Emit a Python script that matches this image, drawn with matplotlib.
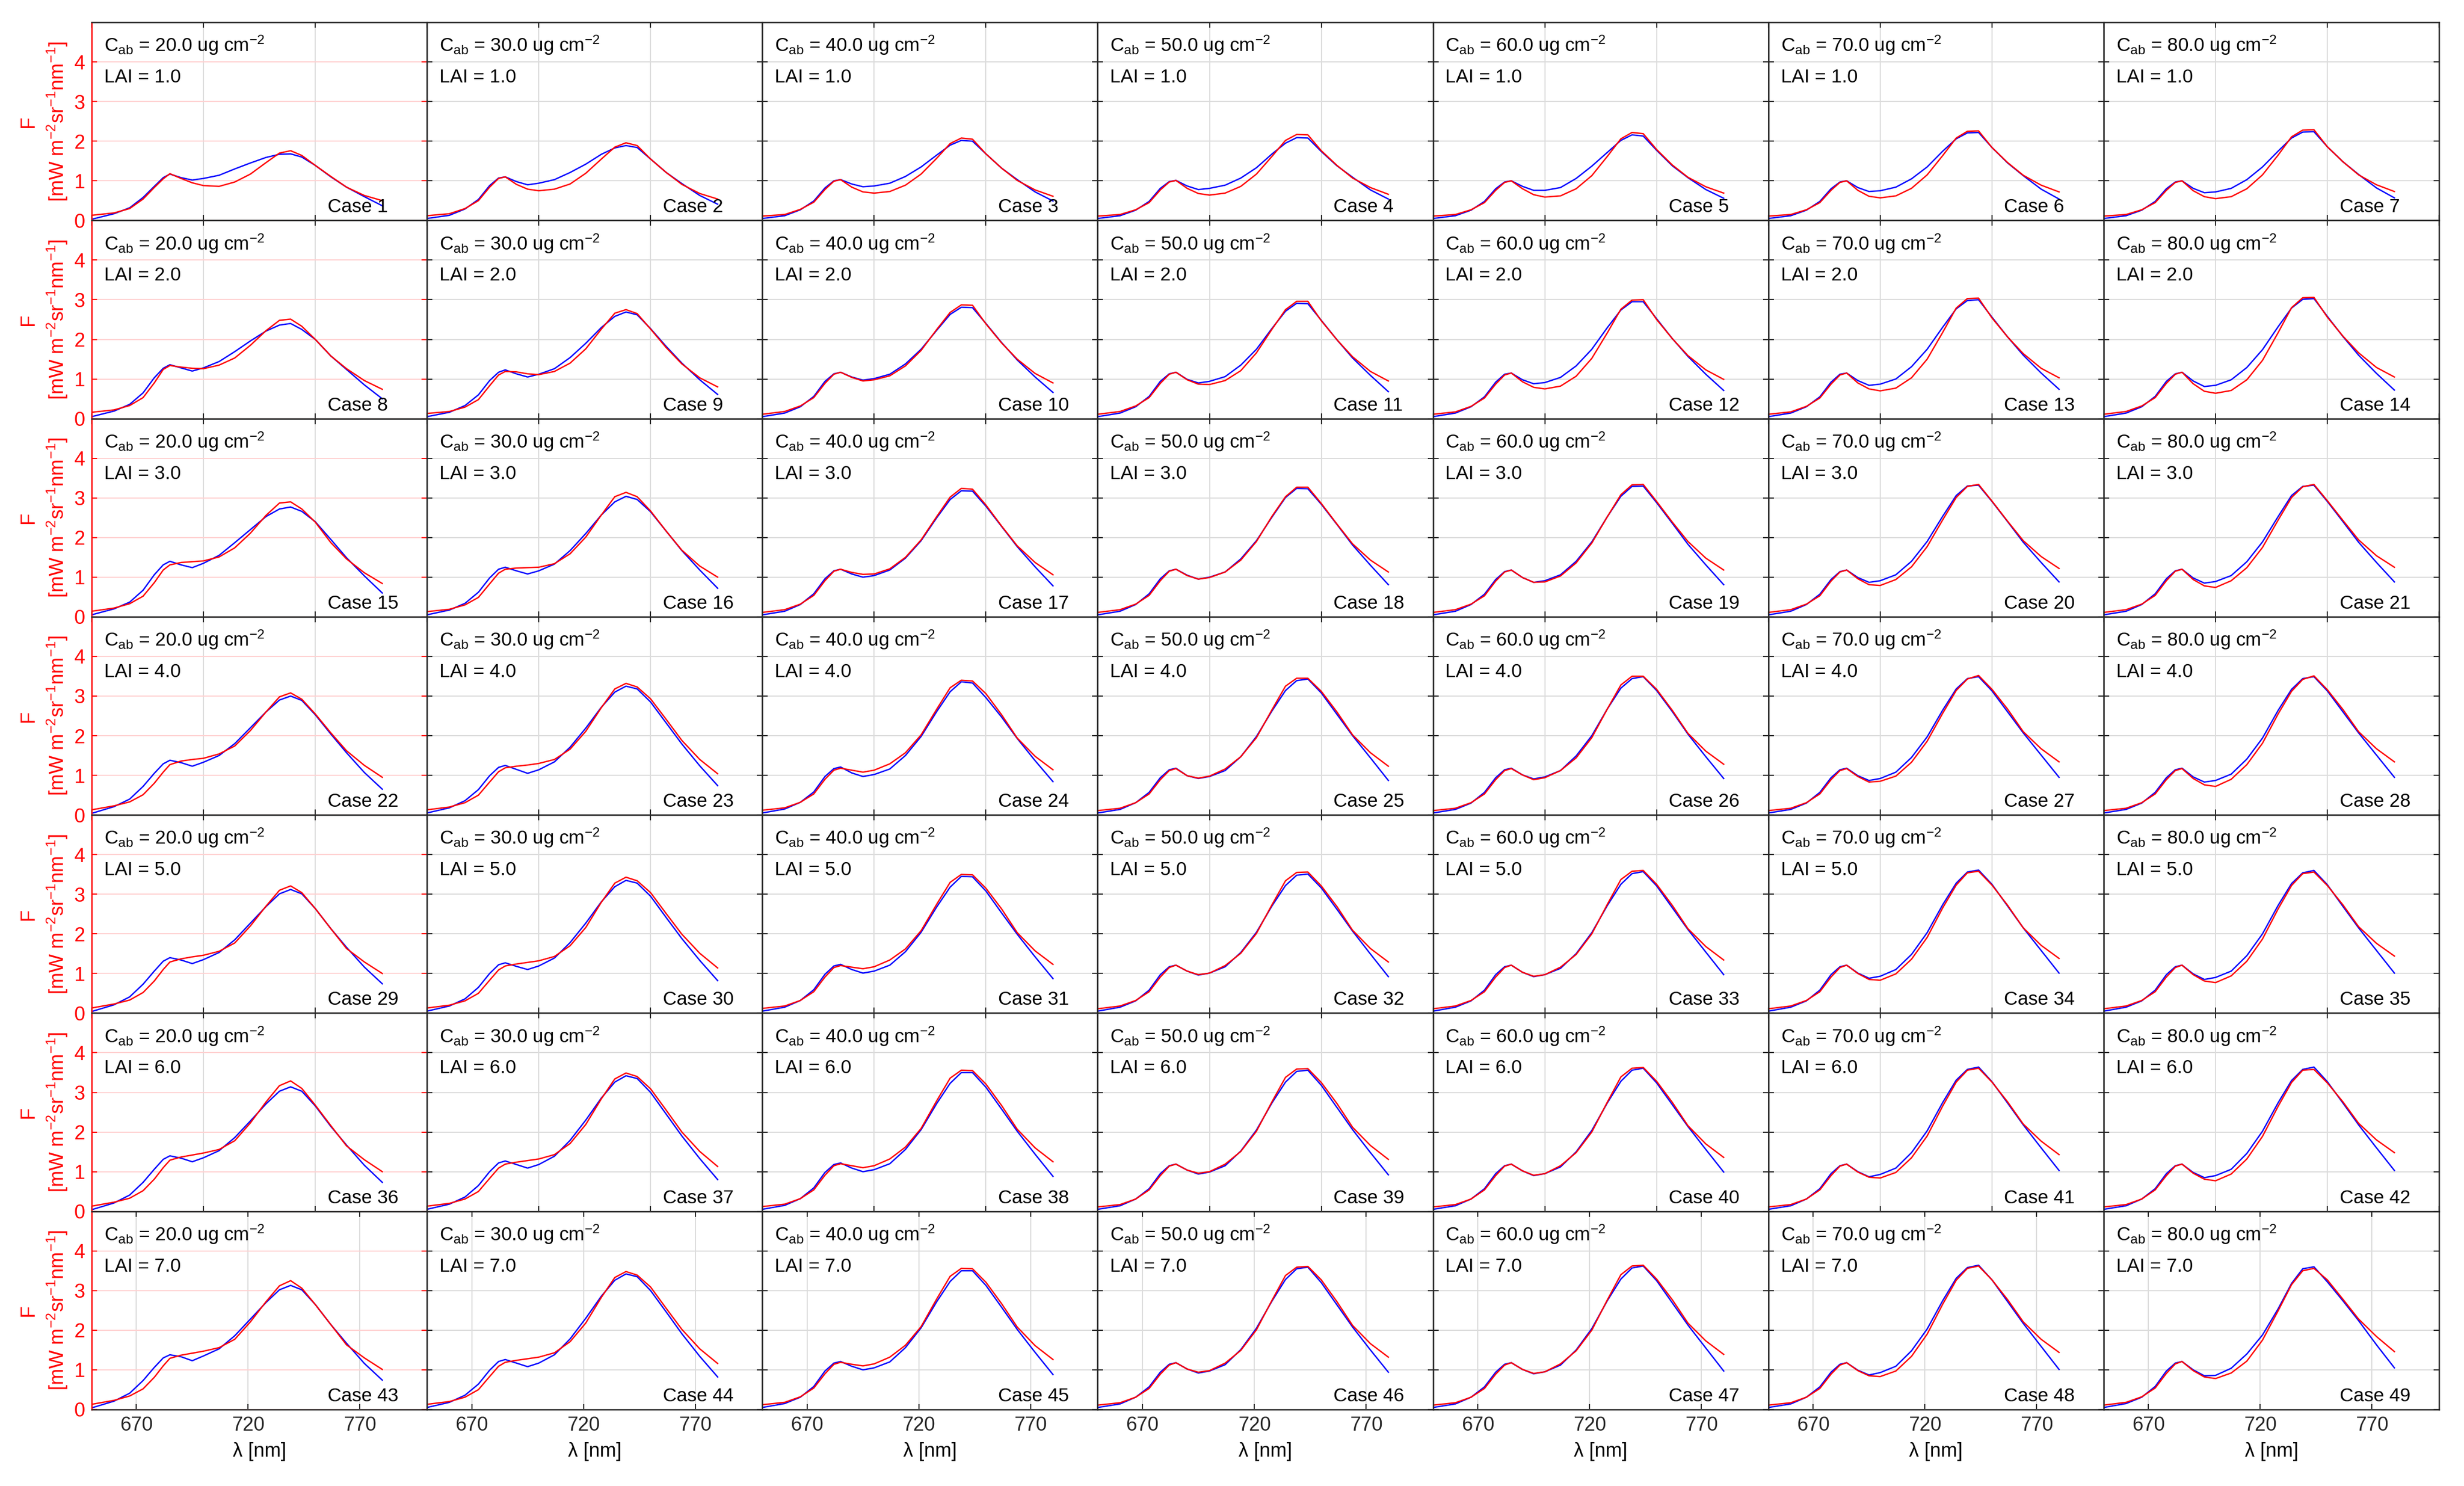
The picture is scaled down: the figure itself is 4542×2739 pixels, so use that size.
import matplotlib.pyplot as plt

plt.rcParams['font.family'] = ['Liberation Sans', 'DejaVu Sans']
plt.rcParams['mathtext.fontset'] = 'custom'
plt.rcParams['mathtext.rm'] = 'Liberation Sans'
plt.rcParams['mathtext.it'] = 'Liberation Sans:italic'

# wavelength samples (nm)
wl = [650, 660, 667, 673, 678, 682, 685, 690, 695, 700, 707, 714,
      721, 728, 734, 739, 744, 750, 757, 764, 772, 780]

cab = [20.0, 30.0, 40.0, 50.0, 60.0, 70.0, 80.0]
lai = [1.0, 2.0, 3.0, 4.0, 5.0, 6.0, 7.0]

# blue curves, one list per LAI row, one sub-list per Cab column
blue_lai1 = [
    [0.03, 0.17, 0.32, 0.58, 0.86, 1.08, 1.17, 1.08, 1.02, 1.06, 1.14, 1.30, 1.45, 1.59, 1.67, 1.68, 1.60, 1.39, 1.10, 0.84, 0.60, 0.37],
    [0.05, 0.13, 0.29, 0.53, 0.88, 1.07, 1.10, 0.98, 0.90, 0.94, 1.03, 1.21, 1.42, 1.67, 1.83, 1.89, 1.84, 1.55, 1.21, 0.93, 0.63, 0.41],
    [0.05, 0.12, 0.27, 0.49, 0.82, 1.00, 1.03, 0.92, 0.85, 0.87, 0.94, 1.11, 1.35, 1.65, 1.90, 2.02, 2.00, 1.68, 1.32, 1.03, 0.72, 0.49],
    [0.05, 0.12, 0.26, 0.48, 0.81, 0.98, 1.01, 0.87, 0.78, 0.81, 0.89, 1.07, 1.33, 1.68, 1.95, 2.09, 2.08, 1.74, 1.38, 1.09, 0.77, 0.54],
    [0.05, 0.12, 0.26, 0.48, 0.80, 0.97, 1.00, 0.86, 0.76, 0.76, 0.83, 1.06, 1.37, 1.72, 2.02, 2.16, 2.13, 1.77, 1.38, 1.08, 0.78, 0.56],
    [0.05, 0.12, 0.26, 0.48, 0.80, 0.97, 1.00, 0.83, 0.73, 0.75, 0.84, 1.05, 1.35, 1.75, 2.06, 2.21, 2.22, 1.84, 1.45, 1.13, 0.79, 0.54],
    [0.05, 0.12, 0.26, 0.48, 0.80, 0.97, 1.00, 0.81, 0.70, 0.72, 0.81, 1.03, 1.35, 1.75, 2.08, 2.23, 2.24, 1.86, 1.48, 1.16, 0.82, 0.57],
]
blue_lai2 = [
    [0.05, 0.19, 0.36, 0.65, 1.03, 1.27, 1.36, 1.28, 1.20, 1.28, 1.44, 1.69, 1.96, 2.21, 2.36, 2.40, 2.25, 2.00, 1.58, 1.24, 0.85, 0.50],
    [0.05, 0.16, 0.33, 0.60, 0.96, 1.17, 1.23, 1.13, 1.05, 1.12, 1.26, 1.54, 1.90, 2.30, 2.58, 2.69, 2.62, 2.27, 1.82, 1.40, 0.98, 0.61],
    [0.05, 0.14, 0.30, 0.56, 0.94, 1.13, 1.17, 1.05, 0.97, 1.01, 1.12, 1.38, 1.75, 2.23, 2.63, 2.81, 2.80, 2.40, 1.92, 1.48, 1.05, 0.66],
    [0.05, 0.14, 0.30, 0.56, 0.94, 1.13, 1.17, 0.99, 0.90, 0.94, 1.06, 1.35, 1.75, 2.28, 2.71, 2.91, 2.90, 2.48, 1.99, 1.53, 1.09, 0.68],
    [0.05, 0.14, 0.30, 0.55, 0.92, 1.12, 1.15, 0.98, 0.88, 0.91, 1.04, 1.33, 1.75, 2.30, 2.74, 2.95, 2.95, 2.52, 2.02, 1.57, 1.12, 0.71],
    [0.05, 0.14, 0.30, 0.55, 0.92, 1.12, 1.15, 0.96, 0.84, 0.87, 1.00, 1.31, 1.75, 2.31, 2.77, 2.98, 3.00, 2.56, 2.06, 1.60, 1.15, 0.74],
    [0.05, 0.14, 0.30, 0.56, 0.94, 1.13, 1.17, 0.95, 0.81, 0.84, 0.98, 1.29, 1.74, 2.32, 2.79, 3.01, 3.03, 2.58, 2.07, 1.60, 1.14, 0.72],
]
blue_lai3 = [
    [0.05, 0.20, 0.37, 0.67, 1.06, 1.31, 1.40, 1.31, 1.24, 1.35, 1.55, 1.87, 2.20, 2.53, 2.72, 2.77, 2.66, 2.40, 1.95, 1.49, 1.03, 0.60],
    [0.05, 0.17, 0.34, 0.62, 0.98, 1.20, 1.25, 1.16, 1.08, 1.16, 1.33, 1.67, 2.10, 2.57, 2.90, 3.04, 2.96, 2.65, 2.16, 1.67, 1.18, 0.72],
    [0.05, 0.14, 0.31, 0.58, 0.96, 1.16, 1.20, 1.08, 1.00, 1.04, 1.18, 1.48, 1.92, 2.50, 2.96, 3.18, 3.17, 2.79, 2.28, 1.77, 1.26, 0.78],
    [0.05, 0.14, 0.31, 0.58, 0.96, 1.16, 1.20, 1.05, 0.95, 1.00, 1.13, 1.46, 1.92, 2.52, 3.01, 3.24, 3.23, 2.84, 2.33, 1.81, 1.30, 0.81],
    [0.05, 0.14, 0.31, 0.57, 0.94, 1.14, 1.18, 0.99, 0.87, 0.91, 1.06, 1.40, 1.89, 2.53, 3.04, 3.29, 3.30, 2.88, 2.36, 1.83, 1.31, 0.81],
    [0.05, 0.14, 0.31, 0.57, 0.94, 1.14, 1.18, 0.99, 0.87, 0.91, 1.06, 1.40, 1.90, 2.54, 3.06, 3.30, 3.32, 2.91, 2.40, 1.88, 1.37, 0.88],
    [0.05, 0.14, 0.31, 0.58, 0.96, 1.16, 1.20, 0.98, 0.85, 0.89, 1.04, 1.39, 1.89, 2.53, 3.06, 3.29, 3.32, 2.91, 2.40, 1.88, 1.37, 0.88],
]
blue_lai4 = [
    [0.04, 0.21, 0.40, 0.72, 1.05, 1.29, 1.38, 1.32, 1.23, 1.33, 1.50, 1.80, 2.20, 2.60, 2.90, 3.00, 2.89, 2.53, 2.04, 1.57, 1.07, 0.65],
    [0.05, 0.18, 0.36, 0.64, 0.99, 1.20, 1.25, 1.15, 1.05, 1.14, 1.34, 1.71, 2.19, 2.72, 3.10, 3.25, 3.18, 2.85, 2.32, 1.79, 1.24, 0.74],
    [0.05, 0.15, 0.32, 0.58, 0.97, 1.17, 1.21, 1.06, 0.97, 1.02, 1.16, 1.50, 1.98, 2.61, 3.11, 3.36, 3.33, 2.96, 2.47, 1.93, 1.37, 0.84],
    [0.05, 0.14, 0.31, 0.57, 0.94, 1.14, 1.18, 0.99, 0.92, 0.97, 1.12, 1.47, 1.98, 2.63, 3.14, 3.39, 3.43, 3.08, 2.54, 2.00, 1.44, 0.87],
    [0.05, 0.14, 0.30, 0.57, 0.94, 1.14, 1.18, 1.01, 0.91, 0.96, 1.12, 1.49, 2.00, 2.68, 3.20, 3.44, 3.49, 3.14, 2.61, 2.04, 1.47, 0.92],
    [0.05, 0.14, 0.30, 0.57, 0.94, 1.14, 1.18, 0.99, 0.87, 0.92, 1.08, 1.45, 1.97, 2.65, 3.18, 3.44, 3.49, 3.13, 2.60, 2.07, 1.51, 0.95],
    [0.05, 0.14, 0.30, 0.57, 0.94, 1.14, 1.18, 0.96, 0.83, 0.87, 1.03, 1.41, 1.94, 2.64, 3.17, 3.44, 3.49, 3.13, 2.60, 2.07, 1.51, 0.95],
]
blue_lai5 = [
    [0.04, 0.21, 0.41, 0.73, 1.06, 1.31, 1.40, 1.34, 1.25, 1.35, 1.53, 1.85, 2.27, 2.69, 3.01, 3.12, 3.01, 2.64, 2.13, 1.66, 1.16, 0.74],
    [0.05, 0.18, 0.36, 0.65, 1.00, 1.22, 1.27, 1.18, 1.10, 1.19, 1.39, 1.78, 2.27, 2.81, 3.19, 3.35, 3.28, 2.95, 2.41, 1.88, 1.33, 0.82],
    [0.05, 0.15, 0.32, 0.59, 0.98, 1.19, 1.23, 1.10, 1.01, 1.06, 1.21, 1.55, 2.04, 2.68, 3.18, 3.45, 3.44, 3.08, 2.53, 1.99, 1.42, 0.87],
    [0.05, 0.15, 0.31, 0.58, 0.97, 1.17, 1.21, 1.06, 0.96, 1.01, 1.17, 1.53, 2.04, 2.71, 3.22, 3.48, 3.51, 3.16, 2.62, 2.07, 1.49, 0.92],
    [0.05, 0.15, 0.31, 0.58, 0.97, 1.17, 1.21, 1.03, 0.92, 0.97, 1.13, 1.50, 2.03, 2.72, 3.25, 3.52, 3.57, 3.21, 2.66, 2.11, 1.54, 0.97],
    [0.05, 0.15, 0.31, 0.58, 0.97, 1.17, 1.21, 1.01, 0.88, 0.93, 1.10, 1.48, 2.03, 2.74, 3.28, 3.56, 3.61, 3.25, 2.70, 2.15, 1.58, 1.01],
    [0.05, 0.15, 0.31, 0.58, 0.97, 1.17, 1.21, 0.99, 0.85, 0.90, 1.06, 1.45, 2.00, 2.72, 3.27, 3.54, 3.60, 3.24, 2.69, 2.15, 1.58, 1.01],
]
blue_lai6 = [
    [0.04, 0.21, 0.41, 0.73, 1.06, 1.31, 1.40, 1.34, 1.25, 1.35, 1.53, 1.86, 2.28, 2.71, 3.03, 3.14, 3.03, 2.66, 2.14, 1.67, 1.16, 0.73],
    [0.05, 0.18, 0.36, 0.65, 1.00, 1.22, 1.27, 1.18, 1.09, 1.18, 1.39, 1.79, 2.30, 2.86, 3.26, 3.42, 3.35, 3.00, 2.45, 1.90, 1.33, 0.80],
    [0.05, 0.15, 0.32, 0.59, 0.98, 1.18, 1.22, 1.09, 1.00, 1.05, 1.20, 1.56, 2.06, 2.72, 3.23, 3.50, 3.50, 3.13, 2.58, 2.02, 1.44, 0.88],
    [0.05, 0.14, 0.31, 0.57, 0.95, 1.15, 1.19, 1.04, 0.94, 0.99, 1.15, 1.52, 2.05, 2.74, 3.26, 3.53, 3.56, 3.18, 2.62, 2.06, 1.48, 0.92],
    [0.05, 0.14, 0.31, 0.57, 0.95, 1.15, 1.19, 1.02, 0.90, 0.95, 1.12, 1.50, 2.04, 2.74, 3.28, 3.56, 3.61, 3.24, 2.69, 2.14, 1.56, 0.99],
    [0.05, 0.14, 0.31, 0.57, 0.95, 1.15, 1.19, 1.00, 0.87, 0.93, 1.09, 1.48, 2.03, 2.75, 3.31, 3.58, 3.64, 3.27, 2.73, 2.18, 1.60, 1.03],
    [0.05, 0.14, 0.31, 0.57, 0.95, 1.15, 1.19, 0.98, 0.85, 0.90, 1.06, 1.46, 2.02, 2.74, 3.30, 3.58, 3.64, 3.27, 2.73, 2.18, 1.60, 1.03],
]
blue_lai7 = [
    [0.04, 0.21, 0.41, 0.73, 1.06, 1.30, 1.38, 1.33, 1.23, 1.35, 1.53, 1.86, 2.28, 2.70, 3.02, 3.13, 3.02, 2.65, 2.14, 1.67, 1.16, 0.74],
    [0.05, 0.18, 0.36, 0.64, 0.99, 1.21, 1.26, 1.17, 1.08, 1.17, 1.38, 1.78, 2.30, 2.86, 3.26, 3.42, 3.35, 3.00, 2.46, 1.91, 1.34, 0.82],
    [0.05, 0.15, 0.31, 0.58, 0.97, 1.17, 1.21, 1.09, 1.00, 1.05, 1.20, 1.56, 2.06, 2.72, 3.23, 3.50, 3.50, 3.13, 2.58, 2.02, 1.44, 0.88],
    [0.05, 0.14, 0.31, 0.57, 0.94, 1.14, 1.18, 1.02, 0.92, 0.97, 1.13, 1.51, 2.05, 2.74, 3.28, 3.55, 3.59, 3.20, 2.64, 2.08, 1.50, 0.94],
    [0.05, 0.14, 0.31, 0.57, 0.94, 1.14, 1.18, 1.01, 0.90, 0.95, 1.12, 1.50, 2.04, 2.75, 3.29, 3.57, 3.62, 3.25, 2.69, 2.13, 1.55, 0.97],
    [0.05, 0.14, 0.31, 0.57, 0.94, 1.14, 1.18, 0.99, 0.87, 0.93, 1.09, 1.48, 2.03, 2.75, 3.31, 3.58, 3.64, 3.27, 2.72, 2.17, 1.59, 1.01],
    [0.05, 0.15, 0.31, 0.58, 0.97, 1.17, 1.21, 1.00, 0.85, 0.86, 1.04, 1.40, 1.88, 2.54, 3.18, 3.55, 3.60, 3.22, 2.74, 2.24, 1.63, 1.05],
]

# red curves, same layout
red_lai1 = [
    [0.13, 0.19, 0.30, 0.54, 0.83, 1.05, 1.18, 1.06, 0.95, 0.88, 0.86, 0.97, 1.17, 1.46, 1.70, 1.76, 1.64, 1.39, 1.11, 0.84, 0.63, 0.50],
    [0.12, 0.17, 0.30, 0.50, 0.84, 1.06, 1.10, 0.91, 0.79, 0.75, 0.79, 0.92, 1.19, 1.55, 1.85, 1.96, 1.89, 1.55, 1.21, 0.91, 0.68, 0.54],
    [0.11, 0.15, 0.28, 0.46, 0.78, 0.99, 1.03, 0.84, 0.72, 0.69, 0.73, 0.89, 1.17, 1.57, 1.94, 2.08, 2.05, 1.68, 1.32, 1.01, 0.77, 0.61],
    [0.11, 0.15, 0.27, 0.45, 0.77, 0.97, 1.01, 0.81, 0.68, 0.64, 0.69, 0.86, 1.17, 1.62, 2.02, 2.17, 2.16, 1.76, 1.39, 1.07, 0.83, 0.66],
    [0.11, 0.15, 0.27, 0.45, 0.76, 0.96, 1.00, 0.80, 0.65, 0.59, 0.62, 0.80, 1.13, 1.62, 2.06, 2.22, 2.19, 1.79, 1.40, 1.09, 0.85, 0.69],
    [0.11, 0.15, 0.27, 0.45, 0.76, 0.96, 1.00, 0.76, 0.61, 0.57, 0.62, 0.81, 1.15, 1.64, 2.08, 2.25, 2.26, 1.84, 1.46, 1.14, 0.89, 0.72],
    [0.11, 0.15, 0.27, 0.45, 0.76, 0.96, 1.00, 0.75, 0.60, 0.55, 0.60, 0.80, 1.15, 1.65, 2.11, 2.28, 2.29, 1.86, 1.48, 1.15, 0.90, 0.73],
]
red_lai2 = [
    [0.16, 0.22, 0.33, 0.53, 0.90, 1.24, 1.34, 1.30, 1.27, 1.26, 1.35, 1.53, 1.85, 2.22, 2.48, 2.51, 2.33, 2.00, 1.58, 1.26, 0.96, 0.74],
    [0.13, 0.18, 0.29, 0.48, 0.83, 1.10, 1.19, 1.18, 1.13, 1.11, 1.19, 1.40, 1.76, 2.26, 2.66, 2.75, 2.65, 2.26, 1.79, 1.38, 1.03, 0.80],
    [0.11, 0.18, 0.32, 0.53, 0.89, 1.12, 1.17, 1.04, 0.95, 0.98, 1.08, 1.33, 1.72, 2.25, 2.68, 2.87, 2.86, 2.39, 1.91, 1.50, 1.14, 0.90],
    [0.11, 0.18, 0.32, 0.53, 0.89, 1.12, 1.17, 0.98, 0.87, 0.86, 0.96, 1.21, 1.66, 2.26, 2.75, 2.96, 2.96, 2.47, 1.99, 1.56, 1.19, 0.95],
    [0.11, 0.17, 0.31, 0.52, 0.87, 1.10, 1.15, 0.93, 0.79, 0.75, 0.82, 1.07, 1.52, 2.17, 2.76, 2.99, 3.00, 2.50, 2.02, 1.59, 1.23, 0.99],
    [0.11, 0.17, 0.31, 0.52, 0.87, 1.10, 1.15, 0.90, 0.75, 0.70, 0.77, 1.03, 1.50, 2.18, 2.79, 3.03, 3.04, 2.54, 2.06, 1.64, 1.27, 1.03],
    [0.11, 0.18, 0.32, 0.53, 0.89, 1.12, 1.17, 0.88, 0.69, 0.64, 0.71, 0.98, 1.47, 2.17, 2.80, 3.05, 3.06, 2.56, 2.08, 1.66, 1.29, 1.05],
]
red_lai3 = [
    [0.14, 0.22, 0.33, 0.52, 0.86, 1.18, 1.31, 1.37, 1.39, 1.41, 1.51, 1.74, 2.11, 2.56, 2.87, 2.90, 2.72, 2.39, 1.87, 1.46, 1.11, 0.84],
    [0.13, 0.19, 0.30, 0.49, 0.83, 1.10, 1.20, 1.23, 1.24, 1.25, 1.34, 1.59, 2.01, 2.57, 3.03, 3.14, 3.03, 2.67, 2.16, 1.68, 1.28, 1.00],
    [0.11, 0.18, 0.32, 0.54, 0.91, 1.15, 1.20, 1.12, 1.07, 1.08, 1.21, 1.50, 1.94, 2.53, 3.02, 3.24, 3.22, 2.82, 2.29, 1.79, 1.37, 1.06],
    [0.11, 0.18, 0.32, 0.54, 0.91, 1.15, 1.20, 1.04, 0.95, 0.99, 1.13, 1.43, 1.90, 2.54, 3.03, 3.27, 3.27, 2.86, 2.34, 1.84, 1.43, 1.13],
    [0.11, 0.18, 0.32, 0.53, 0.90, 1.13, 1.18, 0.99, 0.87, 0.88, 1.03, 1.36, 1.86, 2.53, 3.08, 3.33, 3.34, 2.91, 2.39, 1.90, 1.48, 1.18],
    [0.11, 0.18, 0.32, 0.53, 0.90, 1.13, 1.18, 0.96, 0.81, 0.79, 0.94, 1.26, 1.77, 2.45, 3.01, 3.29, 3.34, 2.92, 2.41, 1.92, 1.52, 1.22],
    [0.11, 0.18, 0.32, 0.54, 0.91, 1.15, 1.20, 0.94, 0.78, 0.74, 0.91, 1.24, 1.75, 2.44, 3.01, 3.28, 3.34, 2.93, 2.43, 1.94, 1.54, 1.25],
]
red_lai4 = [
    [0.13, 0.23, 0.33, 0.51, 0.80, 1.08, 1.27, 1.36, 1.40, 1.43, 1.54, 1.74, 2.13, 2.60, 2.98, 3.08, 2.92, 2.55, 2.07, 1.62, 1.25, 0.95],
    [0.13, 0.20, 0.31, 0.50, 0.83, 1.09, 1.19, 1.23, 1.26, 1.30, 1.40, 1.66, 2.11, 2.71, 3.18, 3.32, 3.23, 2.93, 2.41, 1.88, 1.40, 1.04],
    [0.12, 0.18, 0.32, 0.53, 0.90, 1.13, 1.18, 1.13, 1.08, 1.13, 1.29, 1.57, 2.02, 2.67, 3.21, 3.40, 3.38, 3.06, 2.53, 1.94, 1.48, 1.14],
    [0.11, 0.17, 0.31, 0.53, 0.89, 1.12, 1.17, 0.99, 0.93, 0.98, 1.16, 1.47, 1.95, 2.66, 3.25, 3.45, 3.45, 3.12, 2.60, 2.02, 1.57, 1.23],
    [0.11, 0.17, 0.31, 0.53, 0.89, 1.12, 1.17, 1.01, 0.89, 0.94, 1.12, 1.44, 1.95, 2.68, 3.28, 3.50, 3.50, 3.17, 2.64, 2.06, 1.61, 1.28],
    [0.11, 0.17, 0.31, 0.53, 0.89, 1.12, 1.17, 0.97, 0.83, 0.85, 0.98, 1.33, 1.86, 2.57, 3.14, 3.43, 3.52, 3.17, 2.67, 2.10, 1.67, 1.34],
    [0.11, 0.17, 0.31, 0.53, 0.89, 1.12, 1.17, 0.92, 0.76, 0.72, 0.90, 1.27, 1.81, 2.55, 3.12, 3.42, 3.51, 3.16, 2.66, 2.10, 1.67, 1.34],
]
red_lai5 = [
    [0.13, 0.23, 0.33, 0.52, 0.81, 1.10, 1.29, 1.37, 1.42, 1.46, 1.56, 1.77, 2.20, 2.70, 3.10, 3.21, 3.04, 2.64, 2.13, 1.63, 1.29, 1.00],
    [0.13, 0.20, 0.31, 0.50, 0.83, 1.09, 1.19, 1.24, 1.28, 1.32, 1.43, 1.70, 2.16, 2.80, 3.28, 3.43, 3.34, 3.04, 2.51, 1.99, 1.51, 1.14],
    [0.12, 0.18, 0.32, 0.54, 0.91, 1.15, 1.20, 1.16, 1.12, 1.17, 1.34, 1.62, 2.08, 2.75, 3.30, 3.50, 3.49, 3.15, 2.63, 2.03, 1.57, 1.23],
    [0.11, 0.18, 0.32, 0.54, 0.91, 1.15, 1.21, 1.06, 0.97, 1.01, 1.20, 1.51, 2.01, 2.74, 3.34, 3.55, 3.56, 3.21, 2.69, 2.09, 1.63, 1.29],
    [0.11, 0.18, 0.32, 0.54, 0.91, 1.15, 1.21, 1.03, 0.93, 0.97, 1.16, 1.48, 2.00, 2.75, 3.37, 3.58, 3.60, 3.25, 2.72, 2.13, 1.68, 1.34],
    [0.11, 0.18, 0.32, 0.54, 0.91, 1.15, 1.21, 1.00, 0.85, 0.83, 0.99, 1.36, 1.91, 2.66, 3.23, 3.54, 3.58, 3.23, 2.72, 2.15, 1.71, 1.38],
    [0.11, 0.18, 0.32, 0.54, 0.91, 1.15, 1.21, 0.97, 0.81, 0.77, 0.94, 1.31, 1.87, 2.63, 3.22, 3.52, 3.56, 3.22, 2.73, 2.18, 1.76, 1.44],
]
red_lai6 = [
    [0.13, 0.23, 0.33, 0.52, 0.81, 1.10, 1.29, 1.37, 1.42, 1.47, 1.56, 1.78, 2.23, 2.76, 3.17, 3.29, 3.10, 2.68, 2.16, 1.65, 1.30, 1.00],
    [0.13, 0.20, 0.31, 0.50, 0.83, 1.09, 1.19, 1.24, 1.28, 1.32, 1.43, 1.71, 2.19, 2.84, 3.34, 3.49, 3.40, 3.09, 2.55, 2.00, 1.51, 1.13],
    [0.12, 0.18, 0.32, 0.54, 0.91, 1.15, 1.20, 1.15, 1.10, 1.15, 1.32, 1.62, 2.09, 2.79, 3.36, 3.56, 3.55, 3.21, 2.67, 2.07, 1.60, 1.25],
    [0.11, 0.17, 0.31, 0.54, 0.90, 1.14, 1.19, 1.04, 0.96, 1.00, 1.19, 1.51, 2.02, 2.77, 3.38, 3.59, 3.60, 3.25, 2.72, 2.12, 1.66, 1.31],
    [0.11, 0.17, 0.31, 0.54, 0.90, 1.14, 1.19, 1.02, 0.91, 0.95, 1.15, 1.48, 2.00, 2.76, 3.39, 3.61, 3.63, 3.28, 2.75, 2.16, 1.70, 1.36],
    [0.11, 0.17, 0.31, 0.54, 0.90, 1.14, 1.19, 0.99, 0.86, 0.84, 0.98, 1.35, 1.90, 2.66, 3.26, 3.56, 3.61, 3.26, 2.76, 2.20, 1.77, 1.43],
    [0.11, 0.17, 0.31, 0.54, 0.90, 1.14, 1.19, 0.96, 0.81, 0.77, 0.94, 1.32, 1.89, 2.65, 3.25, 3.56, 3.58, 3.24, 2.76, 2.22, 1.80, 1.48],
]
red_lai7 = [
    [0.13, 0.23, 0.34, 0.52, 0.81, 1.10, 1.29, 1.37, 1.42, 1.47, 1.56, 1.77, 2.21, 2.72, 3.12, 3.25, 3.06, 2.65, 2.14, 1.63, 1.30, 1.01],
    [0.13, 0.20, 0.31, 0.50, 0.83, 1.09, 1.19, 1.24, 1.28, 1.32, 1.43, 1.71, 2.18, 2.83, 3.33, 3.48, 3.39, 3.09, 2.55, 2.02, 1.53, 1.16],
    [0.12, 0.18, 0.32, 0.54, 0.90, 1.14, 1.19, 1.14, 1.10, 1.15, 1.32, 1.62, 2.09, 2.79, 3.36, 3.56, 3.55, 3.21, 2.67, 2.08, 1.61, 1.26],
    [0.11, 0.17, 0.31, 0.53, 0.89, 1.12, 1.18, 1.02, 0.94, 0.98, 1.17, 1.49, 2.01, 2.76, 3.38, 3.59, 3.61, 3.27, 2.72, 2.12, 1.66, 1.32],
    [0.11, 0.17, 0.31, 0.53, 0.89, 1.12, 1.18, 1.01, 0.91, 0.95, 1.15, 1.48, 2.00, 2.77, 3.40, 3.62, 3.64, 3.29, 2.77, 2.18, 1.73, 1.39],
    [0.11, 0.17, 0.31, 0.53, 0.89, 1.12, 1.18, 0.98, 0.85, 0.83, 0.97, 1.34, 1.90, 2.66, 3.26, 3.56, 3.62, 3.27, 2.77, 2.21, 1.77, 1.44],
    [0.11, 0.18, 0.32, 0.54, 0.91, 1.15, 1.21, 0.98, 0.82, 0.78, 0.92, 1.22, 1.75, 2.49, 3.15, 3.50, 3.56, 3.27, 2.78, 2.28, 1.84, 1.46],
]

blue_rows = [blue_lai1, blue_lai2, blue_lai3, blue_lai4, blue_lai5, blue_lai6, blue_lai7]
red_rows = [red_lai1, red_lai2, red_lai3, red_lai4, red_lai5, red_lai6, red_lai7]

fig = plt.figure(figsize=(4542 / 300, 2739 / 300), dpi=300)

left, right, top, bottom = 0.0372, 0.9899, 0.985, 0.0515
w = (right - left) / 7
h = (top - bottom) / 7
fs = 8.4
spine_col = '#262626'

for i in range(7):
    for j in range(7):
        ax = fig.add_axes([left + j * w, top - (i + 1) * h, w, h])
        ax.plot(wl, blue_rows[i][j], color='blue', lw=0.6)
        ax.plot(wl, red_rows[i][j], color='red', lw=0.6)
        ax.set_xlim(650, 800)
        ax.set_ylim(0, 5)
        ax.set_yticks([0, 1, 2, 3, 4])
        if i == 6:
            ax.set_xticks([670, 720, 770])
            ax.set_xlabel('λ [nm]', fontsize=fs + 0.3, labelpad=3)
        else:
            ax.set_xticks([650, 700, 750, 800])
            ax.set_xticklabels([])
        ax.set_axisbelow(True)
        ax.xaxis.grid(True, color='#dcdcdc', lw=0.5)
        ax.yaxis.grid(True, color='#ffd2d2' if j == 0 else '#dcdcdc', lw=0.5)
        ax.tick_params(direction='in', length=2.5, width=0.5, top=True,
                       right=True, labelsize=fs + 0.3, pad=3, colors=spine_col)
        for s in ax.spines.values():
            s.set_color(spine_col)
            s.set_linewidth(0.6)
        if j == 0:
            ax.tick_params(axis='y', colors='red')
            ax.spines['left'].set_color('red')
            ax.set_ylabel('F\n[mW m$^{-2}$sr$^{-1}$nm$^{-1}$]', color='red',
                          fontsize=fs + 0.3, labelpad=2, linespacing=1.4)
        else:
            ax.set_yticklabels([])
        ax.text(0.037, 0.852, 'C$_{\\rm ab}$ = %.1f ug cm$^{-2}$' % cab[j],
                transform=ax.transAxes, fontsize=fs, va='baseline')
        ax.text(0.037, 0.696, 'LAI = %.1f' % lai[i],
                transform=ax.transAxes, fontsize=fs, va='baseline')
        ax.text(0.703, 0.041, 'Case %d' % (i * 7 + j + 1),
                transform=ax.transAxes, fontsize=fs, va='baseline')

fig.savefig('out.png', dpi=300)
